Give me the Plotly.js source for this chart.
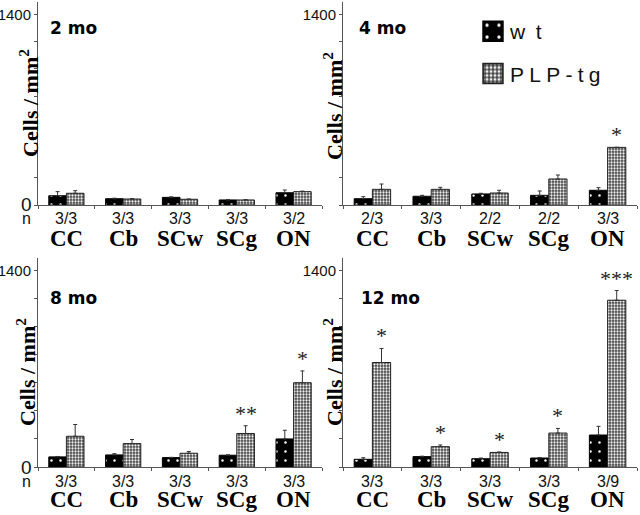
<!DOCTYPE html>
<html>
<head>
<meta charset="utf-8">
<script src="https://cdn.plot.ly/plotly-3.0.1.min.js"></script>
<style>
html,body{margin:0;padding:0;background:#fff;}
#chart{width:640px;height:515px;}
.legend .legendpoints path{transform:translate(23px,0px) scale(1.65);}
</style>
</head>
<body>
<div id="chart"></div>
<script>
// ---- data ----
const categories = ['CC', 'Cb', 'SCw', 'SCg', 'ON'];
const panelTitles = ['2 mo', '4 mo', '8 mo', '12 mo'];

const wt2 = [68, 46, 56, 37, 90];
const wt2Err = [30, 4, 4, 2, 20];
const pg2 = [86, 44, 42, 37, 98];
const pg2Err = [19, 3, 2, 2, 4];
const n2 = ['3/3', '3/3', '3/3', '3/3', '3/2'];
const sig2 = ['', '', '', '', ''];

const wt4 = [46, 64, 81, 71, 108];
const wt4Err = [15, 7, 5, 32, 19];
const pg4 = [115, 115, 88, 191, 423];
const pg4Err = [39, 15, 20, 29, 0];
const n4 = ['2/3', '3/3', '2/2', '2/2', '3/3'];
const sig4 = ['', '', '', '', '*'];

const wt8 = [72, 86, 67, 84, 200];
const wt8Err = [3, 9, 2, 3, 62];
const pg8 = [219, 167, 98, 239, 601];
const pg8Err = [84, 29, 12, 55, 84];
const n8 = ['3/3', '3/3', '3/3', '3/3', '3/3'];
const sig8 = ['', '', '', '**', '*'];

const wt12 = [55, 74, 59, 64, 228];
const wt12Err = [11, 3, 5, 3, 62];
const pg12 = [745, 145, 104, 242, 1189];
const pg12Err = [100, 12, 3, 33, 69];
const n12 = ['3/3', '3/3', '3/3', '3/3', '3/9'];
const sig12 = ['*', '*', '*', '*', '***'];

const yTickVals = [1400];
const yTickText = ['1400'];
const yZeroLabel = '0';
const yMinorStep = 200;
const yTitle = 'Cells / mm<sup>2</sup>';
const seriesNames = ['w\u2002t', 'P\u2005L\u2005P\u2005-\u2005t\u2005g'];

// ---- build ----
const panels = [
  {wt: wt2, wtE: wt2Err, pg: pg2, pgE: pg2Err, n: n2, sig: sig2},
  {wt: wt4, wtE: wt4Err, pg: pg4, pgE: pg4Err, n: n4, sig: sig4},
  {wt: wt8, wtE: wt8Err, pg: pg8, pgE: pg8Err, n: n8, sig: sig8},
  {wt: wt12, wtE: wt12Err, pg: pg12, pgE: pg12Err, n: n12, sig: sig12}
];

const W = 640, H = 515;
const px = v => v / W;
const py = v => 1 - v / H;
const geo = [
  {x0: 38, x1: 322, yb: 205, yt: 2, left: true, nY: 218.5, catY: 238.5, titleX: 48, titleY: 28, ytX: 29, ytY: 103},
  {x0: 343, x1: 637, yb: 205, yt: 2, left: false, nY: 218.5, catY: 238.5, titleX: 357, titleY: 28, ytX: 333, ytY: 106},
  {x0: 38, x1: 322, yb: 467, yt: 258, left: true, nY: 481.5, catY: 499, titleX: 48, titleY: 298, ytX: 26, ytY: 372},
  {x0: 343, x1: 637, yb: 467, yt: 258, left: false, nY: 481.5, catY: 499, titleX: 359, titleY: 298, ytX: 333, ytY: 372}
];

const traces = [];
const annotations = [];
const layout = {
  width: W, height: H,
  margin: {l: 0, r: 0, t: 0, b: 0},
  paper_bgcolor: '#fff', plot_bgcolor: '#fff',
  barmode: 'group', bargap: 0.38, bargroupgap: 0,
  showlegend: true,
  legend: {
    x: px(470), y: py(11), xanchor: 'left', yanchor: 'top',
    font: {family: 'Liberation Sans, Arial, sans-serif', size: 21, color: '#111'},
    bgcolor: 'rgba(0,0,0,0)', tracegroupgap: 12, traceorder: 'grouped'
  },
  hovermode: false
};

panels.forEach((p, i) => {
  const g = geo[i];
  const sfx = i === 0 ? '' : String(i + 1);
  const xa = 'x' + sfx, ya = 'y' + sfx;
  const zeros = categories.map(() => 0);
  traces.push({
    type: 'bar', x: categories, y: p.wt, xaxis: xa, yaxis: ya,
    name: seriesNames[0], legendgroup: 'wt', showlegend: i === 0,
    marker: {color: '#000', line: {color: '#000', width: 1},
      pattern: {shape: '.', bgcolor: '#000', fgcolor: '#fff', size: 9, solidity: 0.06}},
    error_y: {type: 'data', array: p.wtE, arrayminus: zeros, symmetric: false,
      color: '#333', thickness: 1, width: 2}
  });
  traces.push({
    type: 'bar', x: categories, y: p.pg, xaxis: xa, yaxis: ya,
    name: seriesNames[1], legendgroup: 'pg', showlegend: i === 0,
    marker: {color: '#777', line: {color: '#222', width: 1},
      pattern: {shape: '.', bgcolor: '#454545', fgcolor: '#eeeeee', size: 3, solidity: 0.45}},
    error_y: {type: 'data', array: p.pgE, arrayminus: zeros, symmetric: false,
      color: '#333', thickness: 1, width: 2}
  });
  layout['xaxis' + sfx] = {
    domain: [px(g.x0), px(g.x1)], anchor: ya, type: 'category',
    categoryorder: 'array', categoryarray: categories, range: [-0.5, 4.5],
    showline: true, linecolor: '#555', linewidth: 1,
    ticks: 'outside', tickson: 'boundaries', ticklen: 3, tickcolor: '#555',
    showticklabels: false, showgrid: false, zeroline: false, fixedrange: true
  };
  layout['yaxis' + sfx] = {
    domain: [py(g.yb), py(g.yt)], anchor: xa, range: [0, 1490],
    showline: true, linecolor: '#555', linewidth: 1,
    ticks: 'outside', ticklen: 3, tickcolor: '#555',
    tickmode: 'array', tickvals: yTickVals, ticktext: yTickText,
    minor: {tickmode: 'linear', tick0: 0, dtick: yMinorStep, ticks: 'outside', ticklen: 3, tickcolor: '#555', showgrid: false},
    tickfont: {family: 'Liberation Sans, Arial, sans-serif', size: 15, color: '#111'},
    showgrid: false, zeroline: false, fixedrange: true
  };
  // zero label on left panels
  if (g.left) {
    annotations.push({
      xref: 'paper', yref: ya, x: px(26), y: 0,
      xanchor: 'center', yanchor: 'middle', showarrow: false, text: yZeroLabel,
      font: {family: 'Liberation Sans, Arial, sans-serif', size: 19, color: '#111'}
    });
  }
  // panel title
  annotations.push({
    xref: 'paper', yref: 'paper', x: px(g.titleX), y: py(g.titleY),
    xanchor: 'left', yanchor: 'middle', showarrow: false, text: '<b>' + panelTitles[i] + '</b>',
    font: {family: 'DejaVu Sans, Verdana, sans-serif', size: 17, color: '#000'}
  });
  // y title
  annotations.push({
    xref: 'paper', yref: 'paper', x: px(g.ytX), y: py(g.ytY),
    xanchor: 'center', yanchor: 'middle', showarrow: false, textangle: -90,
    text: '<b>' + yTitle + '</b>',
    font: {family: 'Liberation Serif, Times New Roman, serif', size: 22, color: '#000'}
  });
  // n label
  if (g.left) {
    annotations.push({
      xref: 'paper', yref: 'paper', x: px(26), y: py(g.nY),
      xanchor: 'center', yanchor: 'middle', showarrow: false, text: 'n',
      font: {family: 'Liberation Sans, Arial, sans-serif', size: 16, color: '#111'}
    });
  }
  categories.forEach((c, k) => {
    annotations.push({
      xref: xa, yref: 'paper', x: c, y: py(g.nY),
      xanchor: 'center', yanchor: 'middle', showarrow: false, text: p.n[k],
      font: {family: 'Liberation Sans, Arial, sans-serif', size: 16, color: '#111'}
    });
    annotations.push({
      xref: xa, yref: 'paper', x: c, y: py(g.catY),
      xanchor: 'center', yanchor: 'middle', showarrow: false, text: '<b>' + c + '</b>',
      font: {family: 'Liberation Serif, Times New Roman, serif', size: 23, color: '#000'}
    });
    if (p.sig[k]) {
      annotations.push({
        xref: xa, yref: ya, x: c, y: p.pg[k] + p.pgE[k],
        xanchor: 'center', yanchor: 'bottom', xshift: 9, yshift: -2, showarrow: false,
        text: p.sig[k],
        font: {family: 'Liberation Serif, Times New Roman, serif', size: 22, color: '#222'}
      });
    }
  });
});
layout.annotations = annotations;

Plotly.newPlot('chart', traces, layout, {staticPlot: true, displayModeBar: false});
</script>
</body>
</html>
